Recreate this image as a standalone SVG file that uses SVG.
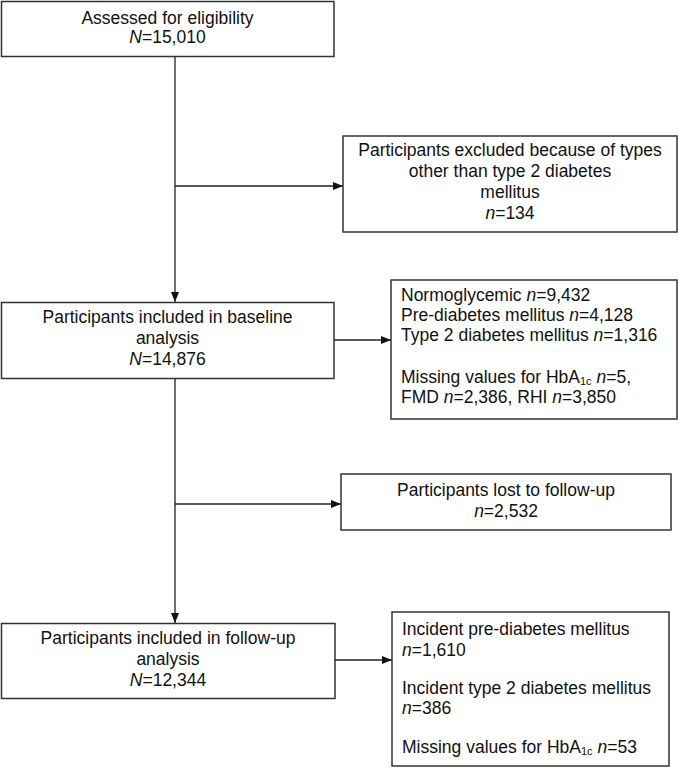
<svg xmlns="http://www.w3.org/2000/svg" width="679" height="770" viewBox="0 0 679 770">
<style>
.box{fill:#fff;stroke:#333;stroke-width:1.5}
.t{font-family:"Liberation Sans",Arial,sans-serif;font-size:17.5px;fill:#111}
.c{text-anchor:middle}
.i{font-style:italic}
.sub{font-size:11px}
.ln{fill:none;stroke:#222;stroke-width:1.3;marker-end:url(#ah)}
</style>
<defs>
<marker id="ah" markerUnits="userSpaceOnUse" markerWidth="10" markerHeight="8" refX="10" refY="4" orient="auto">
<path d="M0,0 L10,4 L0,8 z" fill="#111"/>
</marker>
</defs>
<rect width="679" height="770" fill="#fff"/>
<g id="connectors">
<line class="ln" x1="175" y1="57" x2="175" y2="302"/>
<line class="ln" x1="175" y1="186" x2="343" y2="186"/>
<line class="ln" x1="175" y1="378" x2="175" y2="623"/>
<line class="ln" x1="175" y1="504" x2="341" y2="504"/>
<line class="ln" x1="334" y1="340" x2="391" y2="340"/>
<line class="ln" x1="335" y1="660" x2="392" y2="660"/>
</g>
<g id="assessed">
<rect class="box" x="1.5" y="1.5" width="332.5" height="55"/>
<text class="t c" x="167.5" y="24">Assessed for eligibility</text>
<text class="t c" x="167.5" y="43"><tspan class="i">N</tspan>=15,010</text>
</g>
<g id="excluded">
<rect class="box" x="343" y="136" width="334" height="96"/>
<text class="t c" x="510" y="156">Participants excluded because of types</text>
<text class="t c" x="510" y="177">other than type 2 diabetes</text>
<text class="t c" x="510" y="198">mellitus</text>
<text class="t c" x="510" y="219"><tspan class="i">n</tspan>=134</text>
</g>
<g id="baseline">
<rect class="box" x="1.5" y="302.5" width="332.5" height="76"/>
<text class="t c" x="167.5" y="323">Participants included in baseline</text>
<text class="t c" x="167.5" y="344">analysis</text>
<text class="t c" x="167.5" y="365"><tspan class="i">N</tspan>=14,876</text>
</g>
<g id="baseline-details">
<rect class="box" x="391" y="280" width="286" height="139"/>
<text class="t" x="401" y="301">Normoglycemic <tspan class="i">n</tspan>=9,432</text>
<text class="t" x="401" y="321">Pre-diabetes mellitus <tspan class="i">n</tspan>=4,128</text>
<text class="t" x="401" y="341">Type 2 diabetes mellitus <tspan class="i">n</tspan>=1,316</text>
<text class="t" x="401" y="383">Missing values for HbA<tspan class="sub" dy="2">1c</tspan><tspan dy="-2"> </tspan><tspan class="i">n</tspan>=5,</text>
<text class="t" x="401" y="403">FMD <tspan class="i">n</tspan>=2,386, RHI <tspan class="i">n</tspan>=3,850</text>
</g>
<g id="lost">
<rect class="box" x="341" y="474" width="330" height="56"/>
<text class="t c" x="506" y="496">Participants lost to follow-up</text>
<text class="t c" x="506" y="517"><tspan class="i">n</tspan>=2,532</text>
</g>
<g id="followup">
<rect class="box" x="1.5" y="623.5" width="333.5" height="75"/>
<text class="t c" x="168" y="644">Participants included in follow-up</text>
<text class="t c" x="168" y="665">analysis</text>
<text class="t c" x="168" y="686"><tspan class="i">N</tspan>=12,344</text>
</g>
<g id="followup-details">
<rect class="box" x="392" y="612" width="277" height="154"/>
<text class="t" x="402" y="635">Incident pre-diabetes mellitus</text>
<text class="t" x="402" y="656"><tspan class="i">n</tspan>=1,610</text>
<text class="t" x="402" y="694">Incident type 2 diabetes mellitus</text>
<text class="t" x="402" y="714"><tspan class="i">n</tspan>=386</text>
<text class="t" x="402" y="753">Missing values for HbA<tspan class="sub" dy="2">1c</tspan><tspan dy="-2"> </tspan><tspan class="i">n</tspan>=53</text>
</g>
</svg>
